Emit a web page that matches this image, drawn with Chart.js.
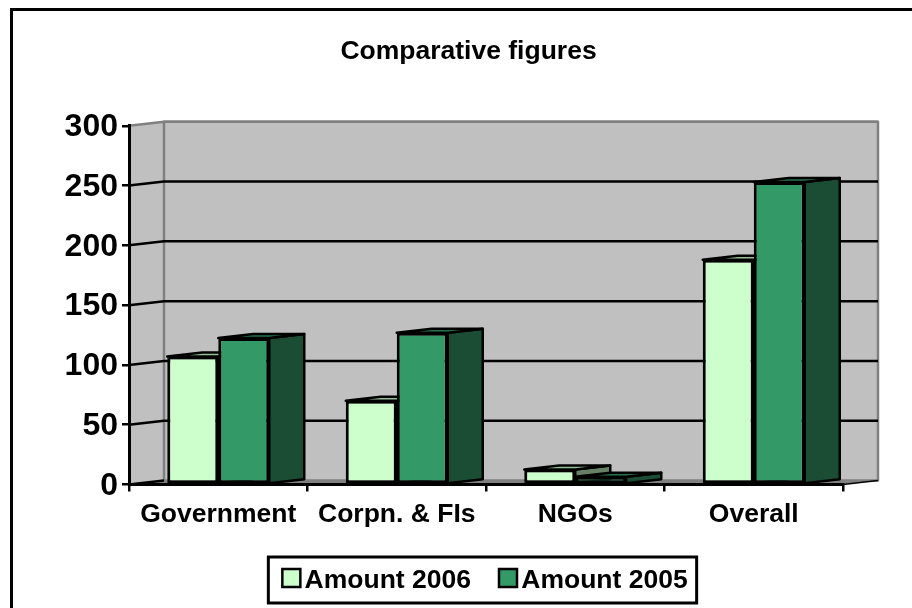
<!DOCTYPE html>
<html>
<head>
<meta charset="utf-8">
<title>Comparative figures</title>
<script src="https://cdn.jsdelivr.net/npm/chart.js@4/dist/chart.umd.min.js"></script>
<style>
  html, body { margin: 0; padding: 0; background: #fff; overflow: hidden; }
  #frame { position: absolute; left: 10px; top: 8px; width: 902px; height: 600px; border-left: 3px solid #000; border-top: 3px solid #000; box-sizing: border-box; }
  #wrap { position: absolute; left: 0; top: 0; width: 912px; height: 608px; }
</style>
</head>
<body>
<div id="frame"></div>
<div id="wrap"><canvas id="chart" width="912" height="608"></canvas></div>
<script>
const categories = ['Government', 'Corpn. & FIs', 'NGOs', 'Overall'];
const amount2006 = [107, 70, 12.5, 188];
const amount2005 = [122.5, 127, 6.5, 253];
const yTicks = [0, 50, 100, 150, 200, 250, 300];

// --- 3D look ---
const depthX = 35;
const depthY = -4;

function shade(hex, f) {
    const n = parseInt(hex.slice(1), 16);
    const c = [n >> 16, (n >> 8) & 255, n & 255].map(v => Math.round(v * f));
    return `rgb(${c[0]},${c[1]},${c[2]})`;
}

function poly(ctx, pts, fill, stroke, lw) {
    ctx.beginPath();
    pts.forEach((p, i) => i ? ctx.lineTo(p[0], p[1]) : ctx.moveTo(p[0], p[1]));
    ctx.closePath();
    if (fill) { ctx.fillStyle = fill; ctx.fill(); }
    if (stroke) { ctx.strokeStyle = stroke; ctx.lineWidth = lw; ctx.lineJoin = 'round'; ctx.stroke(); }
}

const walls3d = {
    id: 'walls3d',
    afterLayout(chart) {
        // title and legend sit off the middle of the plot
        chart.titleBlock.left += 35; chart.titleBlock.right += 35;
        const lg = chart.legend;
        lg.left += 50; lg.right += 50;
        lg.top = 542; lg.bottom = 632;
    },
    beforeDraw(chart) {
        const { ctx, chartArea: a, scales: { y } } = chart;
        ctx.save();
        const grey = '#808080';
        // side wall, back wall, floor
        poly(ctx, [[a.left, a.top], [a.left + depthX, a.top + depthY], [a.left + depthX, a.bottom + depthY], [a.left, a.bottom]], '#c0c0c0');
        poly(ctx, [[a.left + depthX, a.top + depthY], [a.right + depthX, a.top + depthY], [a.right + depthX, a.bottom + depthY], [a.left + depthX, a.bottom + depthY]], '#c0c0c0', grey, 2.5);
        poly(ctx, [[a.left, a.bottom], [a.left + depthX, a.bottom + depthY], [a.right + depthX, a.bottom + depthY], [a.right, a.bottom]], grey);
        // grid lines run along both walls
        yTicks.forEach(v => {
            const py = y.getPixelForValue(v);
            ctx.strokeStyle = v === 300 ? grey : '#000';
            ctx.lineWidth = 2.5;
            ctx.beginPath();
            ctx.moveTo(a.left, py);
            ctx.lineTo(a.left + depthX, py + depthY);
            if (v !== 0) ctx.lineTo(a.right + depthX, py + depthY);
            ctx.stroke();
        });
        // front edge of the floor on the right
        ctx.strokeStyle = '#000';
        ctx.lineWidth = 1.5;
        ctx.beginPath();
        ctx.moveTo(a.right, a.bottom);
        ctx.lineTo(a.right + depthX, a.bottom + depthY);
        ctx.stroke();
        ctx.restore();
    },
    beforeDatasetDraw() {
        return false; // bars are painted below, left to right
    },
    afterDatasetsDraw(chart) {
        const ctx = chart.ctx;
        ctx.save();
        chart.data.datasets.forEach((ds, i) => {
            chart.getDatasetMeta(i).data.forEach(bar => {
                const l = bar.x - bar.width / 2, r = bar.x + bar.width / 2;
                const t = bar.y, b = bar.base;
                poly(ctx, [[r, t], [r + depthX, t + depthY], [r + depthX, b + depthY], [r, b]], shade(ds.backgroundColor, 0.5), '#000', 2.5);
                poly(ctx, [[l, t], [l + depthX, t + depthY], [r + depthX, t + depthY], [r, t]], shade(ds.backgroundColor, 0.75), '#000', 2.5);
                bar.draw(ctx);
            });
        });
        ctx.restore();
    },
    afterDraw(chart) {
        const { ctx, legend } = chart;
        const boxes = legend.legendHitBoxes;
        ctx.save();
        // frame round the legend and full size swatches
        const top = 557, bottom = 603;
        const left = boxes[0].left - 11;
        ctx.strokeStyle = '#000';
        ctx.lineWidth = 3;
        ctx.strokeRect(left, top, boxes[1].left + boxes[1].width + 9 - left, bottom - top);
        boxes.forEach((b, i) => {
            ctx.fillStyle = chart.data.datasets[i].backgroundColor;
            ctx.fillRect(b.left + 3, 569, 18, 18);
            ctx.lineWidth = 2.5;
            ctx.strokeRect(b.left + 3, 569, 18, 18);
        });
        ctx.restore();
    }
};

Chart.defaults.font.family = '"Liberation Sans", Arial, sans-serif';
Chart.defaults.font.weight = 'bold';
Chart.defaults.color = '#000';

new Chart(document.getElementById('chart'), {
    type: 'bar',
    data: {
        labels: categories,
        datasets: [
            { label: 'Amount 2006', data: amount2006, backgroundColor: '#ccffcc', borderColor: '#000', borderWidth: 3, borderSkipped: false },
            { label: 'Amount 2005', data: amount2005, backgroundColor: '#339966', borderColor: '#000', borderWidth: 3, borderSkipped: false }
        ]
    },
    options: {
        responsive: false,
        animation: false,
        layout: { padding: { left: 24, right: 69, top: 0, bottom: 0 } },
        categoryPercentage: 0.5714,
        barPercentage: 1,
        plugins: {
            title: {
                display: true,
                text: 'Comparative figures',
                font: { size: 26.5, weight: 'bold' },
                padding: { top: 36, bottom: 58 }
            },
            legend: {
                position: 'bottom',
                labels: {
                    boxWidth: 12,
                    boxHeight: 18,
                    padding: 25,
                    font: { size: 26.5, weight: 'bold' },
                    // swatches are drawn by the plugin, wider than the label gap allows
                    generateLabels: chart => Chart.defaults.plugins.legend.labels.generateLabels(chart)
                        .map(item => ({ ...item, fillStyle: 'transparent', strokeStyle: 'transparent', lineWidth: 0 }))
                }
            },
            tooltip: { enabled: false }
        },
        scales: {
            x: {
                grid: { drawOnChartArea: false, color: '#000', lineWidth: 2.5, tickLength: 7 },
                border: { color: '#000', width: 3 },
                ticks: { font: { size: 26.5, weight: 'bold' }, maxRotation: 0, autoSkip: false, padding: 7 },
                afterFit(s) { s.height = 62; }
            },
            y: {
                min: 0,
                max: 300,
                grid: { drawOnChartArea: false, color: '#000', lineWidth: 2.5, tickLength: 7 },
                border: { color: '#000', width: 3 },
                ticks: { stepSize: 50, font: { size: 32, weight: 'bold' }, padding: 4, labelOffset: 1.5 },
                afterFit(s) { s.width = 105; }
            }
        }
    },
    plugins: [walls3d]
});
</script>
</body>
</html>
